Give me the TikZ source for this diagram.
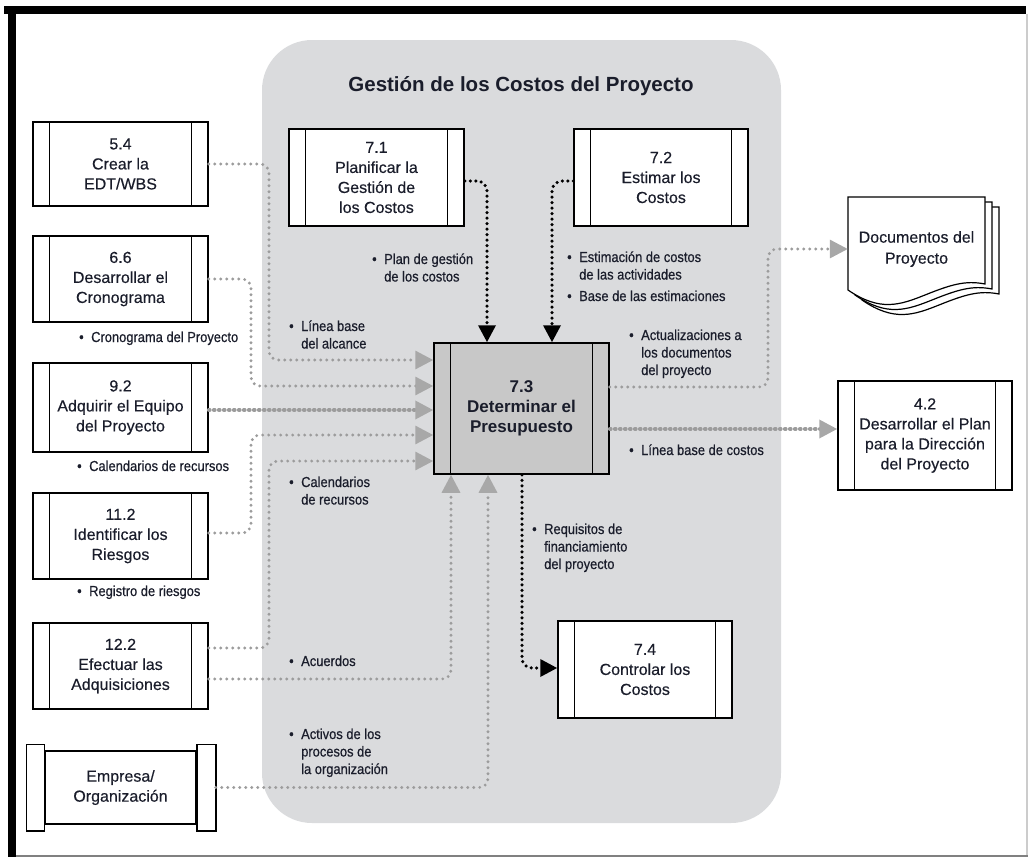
\documentclass[tikz,border=0pt]{standalone}
\usepackage{fontspec}
\setmainfont{Liberation Sans}
\newfontfamily\condfont[FakeStretch=0.89,FakeBold=0.6]{Liberation Sans}
\newfontfamily\boxfont[FakeBold=0.3]{Liberation Sans}
\usetikzlibrary{arrows.meta}
\definecolor{regiongray}{HTML}{DADBDD}
\definecolor{boxgray}{HTML}{C8C8C8}
\definecolor{dotgray}{HTML}{9C9C9C}
\definecolor{tipgray}{HTML}{A8A8A8}
\definecolor{txt}{HTML}{1A1D2B}
\newcommand\bul{\makebox[12pt][l]{\textbullet}}
\newcommand\ind{\hspace*{12pt}}
\newcommand\lbllines[1]{\begin{tabular}[t]{@{}l@{}}#1\end{tabular}}
\tikzset{
  proc/.style={draw=black, line width=1.5pt, fill=white, minimum width=175pt,
    inner sep=0pt, align=center, text=txt,
    font=\boxfont\fontsize{16}{20}\selectfont,
    path picture={\draw[line width=1.5pt]
      ([xshift=16.5pt]path picture bounding box.north west) -- ([xshift=16.5pt]path picture bounding box.south west)
      ([xshift=-16.5pt]path picture bounding box.north east) -- ([xshift=-16.5pt]path picture bounding box.south east);}},
  lbl/.style={anchor=base west, inner sep=0pt, text=txt, font=\condfont\fontsize{14.5}{17.5}\selectfont},
  gdot/.style={draw=dotgray, line width=3.2pt, line cap=round, dash pattern=on 0pt off 6pt,
    rounded corners=9pt, -{Triangle[length=18pt,width=18pt,color=tipgray,fill=tipgray]}},
  gheavy/.style={draw=dotgray, line width=3.6pt, line cap=round, dash pattern=on 1pt off 4pt,
    -{Triangle[length=18pt,width=18pt,color=tipgray,fill=tipgray]}},
  bdot/.style={draw=black, line width=3.5pt, line cap=round, dash pattern=on 0pt off 5.5pt,
    rounded corners=10pt, -{Triangle[length=17pt,width=17pt,color=black,fill=black]}},
  page/.style={fill=white, draw=black, line width=1.2pt}
}
\begin{document}
\begin{tikzpicture}[x=1pt,y=-1pt]
\useasboundingbox (0,0) rectangle (1028,857);
% frame
\fill[black] (4,6) rectangle (1026,14);
\fill[black] (8,6) rectangle (16,857);
\draw[black!20, line width=1.5pt] (1027,14) -- (1027,857);
\draw[black!50, line width=1.5pt] (16,856) -- (1028,856);
% region
\fill[regiongray, rounded corners=50pt] (262,40) rectangle (781,823);
\node[font=\bfseries\fontsize{20.5}{24}\selectfont, text=txt] (title) at (521,86) {Gestión de los Costos del Proyecto};

% process boxes
\node[proc, minimum height=84pt] (b54) at (120.5,164) {5.4\\Crear la\\EDT/WBS};
\node[proc, minimum height=86pt] (b66) at (120.5,279) {6.6\\Desarrollar el\\Cronograma};
\node[proc, minimum height=89pt] (b92) at (120.5,407.5) {9.2\\Adquirir el Equipo\\del Proyecto};
\node[proc, minimum height=86pt] (b112) at (120.5,536) {11.2\\Identificar los\\Riesgos};
\node[proc, minimum height=86pt] (b122) at (120.5,666) {12.2\\Efectuar las\\Adquisiciones};
\node[proc, minimum height=97pt] (b71) at (376.5,177.5) {7.1\\Planificar la\\Gestión de\\los Costos};
\node[proc, minimum height=97pt, minimum width=174pt] (b72) at (661,177.5) {7.2\\Estimar los\\Costos};
\node[proc, minimum height=131pt, fill=boxgray, font=\bfseries\fontsize{17}{20}\selectfont] (b73) at (521.5,408.5) {7.3\\Determinar el\\Presupuesto};
\node[proc, minimum height=97pt, minimum width=174pt] (b74) at (645,669.5) {7.4\\Controlar los\\Costos};
\node[proc, minimum height=109pt, minimum width=174pt] (b42) at (925,435.5) {4.2\\Desarrollar el Plan\\para la Dirección\\del Proyecto};

% Empresa / Organizacion
\node[draw=black, line width=1.5pt, fill=white, minimum width=151pt, minimum height=73pt, inner sep=0pt,
  align=center, text=txt, font=\boxfont\fontsize{16}{20}\selectfont] (emp) at (120.5,787.5) {Empresa/\\Organización};
\draw[line width=1.5pt, fill=white] ([shift={(-18pt,6pt)}]emp.north west) rectangle ([yshift=-6pt]emp.south west);
\draw[line width=1.5pt, fill=white] ([yshift=6pt]emp.north east) rectangle ([shift={(19pt,-6pt)}]emp.south east);

% documents stack
\foreach \d/\e in {14/10, 7/5, 0/0}{
  \draw[page, shift={(\d,\e)}] (848,197) -- (985,197) -- (985,284)
    .. controls (965,280) and (950,285) .. (925,295)
    .. controls (900,305) and (880,312) .. (848,290) -- cycle;
}
\node[minimum width=137pt, minimum height=20pt, inner sep=0pt, align=center, text=txt,
  font=\boxfont\fontsize{16}{21}\selectfont] (doc) at (916.5,249) {Documentos del\\Proyecto};

% inputs to 7.3
\draw[gdot] (b54.east) -- (269,164) -- (269,360) -- ([yshift=48.5pt]b73.west);
\draw[gdot] (b66.east) -- (251,279) -- (251,386) -- ([yshift=22.5pt]b73.west);
\draw[gheavy] ([yshift=-2.5pt]b92.east) -- ([yshift=-1.5pt]b73.west);
\draw[gdot] ([yshift=3pt]b112.east) -- (251,533) -- (251,435) -- ([yshift=-26.5pt]b73.west);
\draw[gdot] ([yshift=18pt]b122.east) -- (269,648) -- (269,461) -- ([yshift=-52.5pt]b73.west);
\draw[gdot] ([yshift=-13pt]b122.east) -- (451,679) -- ([xshift=-70.5pt]b73.south);
\draw[gdot] ([xshift=19pt]emp.east) -- (488,787.5) -- ([xshift=-33.5pt]b73.south);
% outputs
\draw[gdot] ([yshift=21.5pt]b73.east) -- (768,387) -- (768,249) -- (doc.west);
\draw[gheavy] ([yshift=-20.5pt]b73.east) -- ([yshift=6.5pt]b42.west);
% black flows
\draw[bdot] ([yshift=-3.5pt]b71.east) -- (487,181) -- ([xshift=-34.5pt]b73.north);
\draw[bdot] ([yshift=-3.5pt]b72.west) -- (552,181) -- ([xshift=30.5pt]b73.north);
\draw[bdot] ([xshift=0.5pt]b73.south) -- (522,668) -- ([yshift=1.5pt]b74.west);

% labels
\node[lbl] (l1) at (372,264) {\lbllines{\bul Plan de gestión\\ \ind de los costos}};
\node[lbl] (l2) at (567,262) {\lbllines{\bul Estimación de costos\\ \ind de las actividades}};
\node[lbl] (l3) at (567,301) {\bul Base de las estimaciones};
\node[lbl] (l4) at (289,331) {\lbllines{\bul Línea base\\ \ind del alcance}};
\node[lbl] (l5) at (79,342) {\bul Cronograma del Proyecto};
\node[lbl] (l6) at (77,471) {\bul Calendarios de recursos};
\node[lbl] (l7) at (77,596) {\bul Registro de riesgos};
\node[lbl] (l8) at (289,487) {\lbllines{\bul Calendarios\\ \ind de recursos}};
\node[lbl] (l9) at (629,340) {\lbllines{\bul Actualizaciones a\\ \ind los documentos\\ \ind del proyecto}};
\node[lbl] (l10) at (629,455) {\bul Línea base de costos};
\node[lbl] (l11) at (532,534) {\lbllines{\bul Requisitos de\\ \ind financiamiento\\ \ind del proyecto}};
\node[lbl] (l12) at (289,666) {\bul Acuerdos};
\node[lbl] (l13) at (289,739) {\lbllines{\bul Activos de los\\ \ind procesos de\\ \ind la organización}};
\end{tikzpicture}
\end{document}
